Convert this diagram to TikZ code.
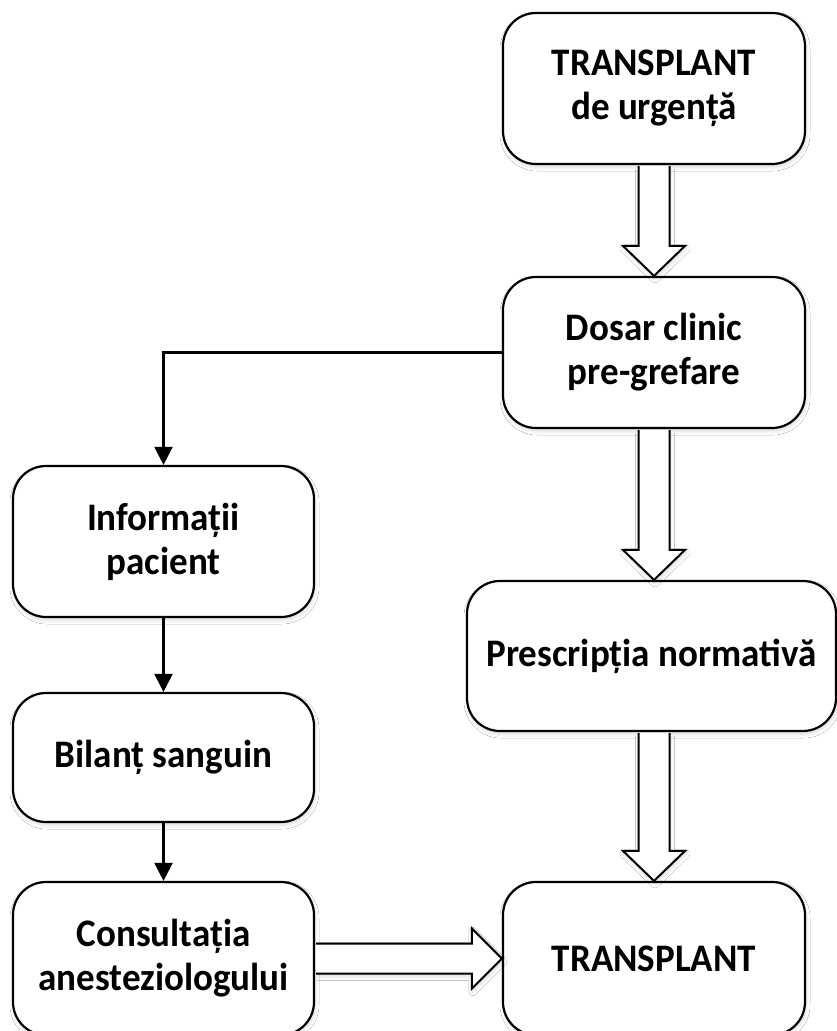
\documentclass[tikz,border=0pt]{standalone}
\usepackage{fontspec}
\newfontfamily\boxfont{Carlito}[FakeStretch=0.95]
\usetikzlibrary{arrows.meta,calc,shadows.blur}

\tikzset{
  soft/.style={blur shadow={shadow xshift=1pt,shadow yshift=-3pt,
      shadow blur radius=4pt,shadow opacity=15}},
  stage/.style={draw=black,line width=2.2pt,fill=white,rounded corners=33pt,
      inner sep=0pt,align=center,soft,
      font=\boxfont\bfseries\fontsize{39}{44}\selectfont},
  conn/.style={line width=2.2pt,-{Triangle[width=18pt,length=18pt]}},
  blockarrow/.style={draw=black,line width=2pt,fill=white,line join=miter,soft},
}

% hollow block arrow pointing down, from coordinate #1 to coordinate #2
\newcommand\blockdown[2]{%
  \draw[blockarrow] ($(#1)+(-15.5,1)$) -- ($(#2)+(-15.5,-30)$)
    -- ($(#2)+(-31,-30)$) -- (#2) -- ($(#2)+(31,-30)$)
    -- ($(#2)+(15.5,-30)$) -- ($(#1)+(15.5,1)$);}
% hollow block arrow pointing right, from coordinate #1 to coordinate #2
\newcommand\blockright[2]{%
  \draw[blockarrow] ($(#1)+(1,-15)$) -- ($(#2)+(-30,-15)$)
    -- ($(#2)+(-30,-30)$) -- (#2) -- ($(#2)+(-30,30)$)
    -- ($(#2)+(-30,15)$) -- ($(#1)+(1,15)$);}

\begin{document}
\begin{tikzpicture}[x=1pt,y=-1pt]
\useasboundingbox[fill=white] (0,0) rectangle (837,1031);

% right column
\node[stage,minimum width=302pt,minimum height=151pt] (urg) at (654,88.5)
  {TRANSPLANT\\de urgență};
\node[stage,minimum width=302pt,minimum height=151pt] (dosar) at (654,352.5)
  {Dosar clinic\\pre-grefare};
\node[stage,minimum width=369pt,minimum height=150pt] (presc) at (651.5,656)
  {Prescripția normativă};
\node[stage,minimum width=302pt,minimum height=153pt] (tx) at (654,958.5)
  {TRANSPLANT};

% left column
\node[stage,minimum width=301pt,minimum height=151pt] (info) at (163.5,541.5)
  {Informații\\pacient};
\node[stage,minimum width=301pt,minimum height=129pt] (bilant) at (163.5,757.5)
  {Bilanț sanguin};
\node[stage,minimum width=301pt,minimum height=153pt] (consult) at (163.5,958.5)
  {Consultația\\anesteziologului};

% thin connectors
\draw[conn] (dosar.west) -| (info.north);
\draw[conn] (info.south) -- (bilant.north);
\draw[conn] (bilant.south) -- (consult.north);

% block arrows
\coordinate (a1s) at (urg.south);
\coordinate (a1e) at (dosar.north);
\coordinate (a2s) at (dosar.south);
\coordinate (a2e) at (dosar.south |- presc.north);
\coordinate (a3s) at (tx.north |- presc.south);
\coordinate (a3e) at (tx.north);
\coordinate (a4s) at (consult.east);
\coordinate (a4e) at (tx.west);
\blockdown{a1s}{a1e}
\blockdown{a2s}{a2e}
\blockdown{a3s}{a3e}
\blockright{a4s}{a4e}
\end{tikzpicture}
\end{document}
